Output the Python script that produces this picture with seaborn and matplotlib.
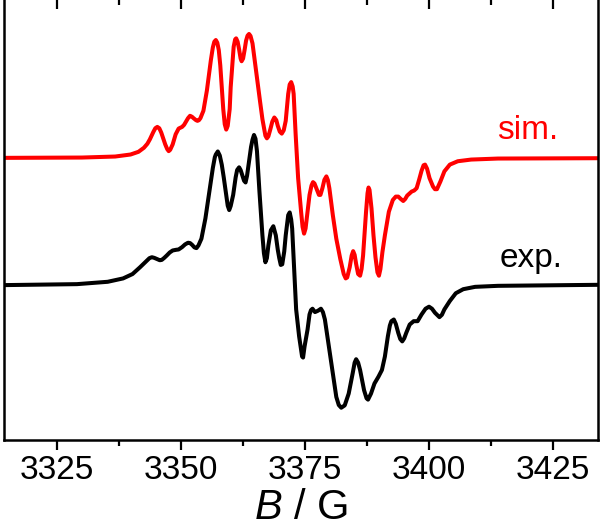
import numpy as np
import pandas as pd
import seaborn as sns
import matplotlib
matplotlib.use("Agg")
import matplotlib.pyplot as plt
from matplotlib.ticker import MultipleLocator

# field values (G) and signal heights
sim_field = [3313.6, 3330.0, 3336.7, 3339.8, 3341.4, 3342.5, 3343.2, 3343.7, 3344.4, 3344.8,
             3345.2, 3345.6, 3346.0, 3346.4, 3346.8, 3347.2, 3347.5, 3347.8, 3348.3, 3348.9,
             3349.5, 3350.2, 3350.6, 3351.0, 3351.4, 3351.8, 3352.2, 3352.5, 3353.0, 3353.3,
             3353.6, 3353.9, 3354.5, 3355.2, 3355.6, 3356.0, 3356.4, 3356.7, 3357.0, 3357.3,
             3357.6, 3357.9, 3358.2, 3358.5, 3358.8, 3359.1, 3359.4, 3359.8, 3360.0, 3360.3,
             3360.6, 3360.9, 3361.1, 3361.4, 3361.7, 3362.0, 3362.2, 3362.5, 3362.8, 3363.1,
             3363.4, 3363.7, 3364.0, 3364.4, 3365.1, 3365.9, 3366.4, 3366.7, 3367.0, 3367.3,
             3367.6, 3368.0, 3368.4, 3368.8, 3369.2, 3369.5, 3369.9, 3370.3, 3370.7, 3371.1,
             3371.6, 3371.9, 3372.2, 3372.5, 3372.7, 3373.1, 3373.6, 3374.2, 3374.5, 3374.8,
             3375.1, 3375.5, 3375.9, 3376.3, 3376.6, 3376.9, 3377.4, 3377.8, 3378.1, 3378.5,
             3378.9, 3379.3, 3379.6, 3379.9, 3380.6, 3381.3, 3382.1, 3382.8, 3383.2, 3383.5,
             3384.0, 3384.4, 3384.7, 3385.0, 3385.3, 3385.7, 3386.1, 3386.4, 3386.7, 3387.3,
             3387.6, 3387.8, 3388.0, 3388.4, 3388.8, 3389.2, 3389.6, 3389.9, 3390.2, 3390.6,
             3391.1, 3391.9, 3392.7, 3393.3, 3393.8, 3394.3, 3394.8, 3395.2, 3395.6, 3396.5,
             3397.0, 3397.5, 3398.0, 3398.5, 3398.9, 3399.2, 3399.6, 3400.1, 3400.8, 3401.2,
             3401.6, 3402.3, 3403.1, 3404.2, 3405.8, 3408.5, 3413.9, 3434.1]
sim_signal = [0.00, 0.01, 0.04, 0.10, 0.18, 0.30, 0.42, 0.55, 0.77, 0.88,
              0.92, 0.88, 0.75, 0.58, 0.40, 0.26, 0.20, 0.24, 0.40, 0.70,
              0.87, 0.92, 0.98, 1.08, 1.18, 1.25, 1.22, 1.18, 1.12, 1.10,
              1.12, 1.18, 1.40, 2.00, 2.45, 2.90, 3.28, 3.45, 3.50, 3.42,
              3.20, 2.75, 2.10, 1.45, 1.00, 0.84, 0.95, 1.45, 2.10, 2.70,
              3.30, 3.52, 3.55, 3.45, 3.22, 2.95, 2.87, 2.95, 3.20, 3.48,
              3.63, 3.68, 3.62, 3.40, 2.60, 1.70, 1.15, 0.90, 0.66, 0.58,
              0.64, 0.85, 1.08, 1.20, 1.12, 0.95, 0.78, 0.72, 0.82, 1.10,
              1.90, 2.18, 2.25, 2.12, 1.90, 0.70, -0.60, -1.60, -2.05, -2.25,
              -2.10, -1.60, -1.10, -0.82, -0.72, -0.76, -0.95, -1.10, -1.10, -0.90,
              -0.65, -0.55, -0.66, -0.90, -1.70, -2.40, -3.00, -3.45, -3.58, -3.55,
              -3.25, -2.90, -2.77, -2.88, -3.15, -3.45, -3.50, -3.30, -2.90, -1.60,
              -1.05, -0.88, -0.95, -1.50, -2.30, -2.95, -3.40, -3.50, -3.30, -2.80,
              -2.30, -1.60, -1.25, -1.15, -1.15, -1.22, -1.28, -1.22, -1.12, -1.00,
              -0.97, -0.90, -0.65, -0.38, -0.22, -0.20, -0.32, -0.60, -0.85, -0.93,
              -0.93, -0.70, -0.40, -0.20, -0.10, -0.05, -0.02, -0.01]

exp_field = [3313.6, 3329.0, 3335.2, 3338.3, 3340.2, 3341.7, 3342.9, 3343.6, 3344.1, 3344.6,
             3345.2, 3345.7, 3346.1, 3346.6, 3347.1, 3347.7, 3348.3, 3349.0, 3349.5, 3350.2,
             3350.8, 3351.4, 3351.8, 3352.2, 3352.7, 3353.1, 3353.5, 3354.1, 3354.9, 3355.6,
             3356.4, 3356.8, 3357.0, 3357.4, 3357.8, 3358.2, 3358.6, 3359.0, 3359.4, 3359.7,
             3360.0, 3360.5, 3361.0, 3361.3, 3361.7, 3362.0, 3362.3, 3362.7, 3363.0, 3363.3,
             3363.7, 3364.1, 3364.4, 3364.7, 3365.0, 3365.3, 3365.8, 3366.4, 3366.7, 3367.0,
             3367.3, 3367.6, 3368.1, 3368.6, 3369.1, 3369.5, 3369.8, 3370.1, 3370.4, 3370.8,
             3371.1, 3371.6, 3371.9, 3372.2, 3372.4, 3372.8, 3373.2, 3373.8, 3374.4, 3374.6,
             3374.9, 3375.5, 3375.9, 3376.2, 3376.5, 3377.0, 3377.6, 3378.2, 3378.6, 3379.0,
             3379.8, 3380.6, 3381.3, 3381.8, 3382.3, 3383.0, 3383.8, 3384.6, 3385.0, 3385.3,
             3385.7, 3386.1, 3386.9, 3387.4, 3387.7, 3388.3, 3389.0, 3389.8, 3390.5, 3391.1,
             3391.7, 3392.1, 3392.4, 3392.9, 3393.3, 3393.8, 3394.2, 3394.6, 3395.0, 3395.4,
             3396.1, 3396.9, 3397.7, 3398.5, 3399.3, 3400.0, 3400.6, 3401.2, 3402.1, 3402.6,
             3403.1, 3404.2, 3405.4, 3406.9, 3409.3, 3413.9, 3434.1]
exp_signal = [0.00, 0.03, 0.10, 0.20, 0.33, 0.53, 0.70, 0.80, 0.83, 0.81,
              0.77, 0.74, 0.75, 0.81, 0.88, 0.97, 1.03, 1.05, 1.06, 1.13,
              1.21, 1.26, 1.25, 1.20, 1.12, 1.10, 1.18, 1.38, 1.98, 2.68,
              3.48, 3.80, 3.88, 3.97, 3.85, 3.58, 3.20, 2.78, 2.36, 2.23,
              2.35, 2.68, 3.20, 3.42, 3.50, 3.42, 3.28, 3.10, 3.05, 3.25,
              3.68, 4.10, 4.32, 4.46, 4.35, 3.98, 2.78, 1.48, 0.95, 0.68,
              0.80, 1.18, 1.63, 1.75, 1.48, 1.05, 0.80, 0.60, 0.62, 1.00,
              1.48, 2.08, 2.16, 1.95, 1.68, 0.48, -0.72, -1.52, -2.12, -2.15,
              -1.82, -1.32, -0.87, -0.74, -0.70, -0.80, -0.76, -0.70, -0.80, -1.02,
              -1.82, -2.62, -3.32, -3.56, -3.64, -3.57, -3.22, -2.62, -2.30, -2.20,
              -2.30, -2.52, -3.12, -3.36, -3.40, -3.22, -2.92, -2.72, -2.52, -2.12,
              -1.52, -1.20, -1.07, -1.02, -1.15, -1.42, -1.60, -1.67, -1.58, -1.42,
              -1.17, -1.07, -1.07, -0.87, -0.70, -0.64, -0.70, -0.82, -0.95, -0.88,
              -0.72, -0.47, -0.24, -0.12, -0.05, -0.02, 0.01]

trace_names = ["sim.", "exp."]
xtick_values = [3325, 3350, 3375, 3400, 3425]

SIM_OFFSET = 8.38
EXP_OFFSET = 4.60


def build_frame():
    sim = pd.DataFrame({"field": sim_field,
                        "y": np.array(sim_signal) + SIM_OFFSET,
                        "trace": trace_names[0]})
    exp = pd.DataFrame({"field": exp_field,
                        "y": np.array(exp_signal) + EXP_OFFSET,
                        "trace": trace_names[1]})
    return pd.concat([sim, exp], ignore_index=True)


def main():
    sns.set_style("ticks")
    plt.rcParams["font.family"] = ["Liberation Sans", "DejaVu Sans"]
    plt.rcParams["mathtext.fontset"] = "custom"
    plt.rcParams["mathtext.it"] = "Liberation Sans:italic"
    plt.rcParams["mathtext.rm"] = "Liberation Sans"
    for key in ["text.color", "axes.labelcolor", "xtick.color", "axes.edgecolor"]:
        plt.rcParams[key] = "black"

    df = build_frame()
    colors = {"sim.": "#ff0000", "exp.": "#000000"}

    fig = plt.figure(figsize=(6, 5.27), dpi=100)
    ax = fig.add_axes([0.006, 0.165, 0.99, 0.837])
    sns.lineplot(data=df, x="field", y="y", hue="trace", palette=colors,
                 estimator=None, sort=False, linewidth=2.9, legend=False, ax=ax)
    for line in ax.get_lines():
        line.set_solid_joinstyle("round")
        line.set_solid_capstyle("round")

    ax.set_xlim(3314.2, 3434.0)
    ax.set_ylim(0, 13.1)
    ax.set_yticks([])
    ax.set_ylabel("")
    ax.set_xticks(xtick_values)
    ax.xaxis.set_minor_locator(MultipleLocator(12.5))
    ax.tick_params(axis="x", which="major", direction="out", length=7, width=1.6,
                   labelsize=24, pad=4)
    ax.tick_params(axis="x", which="minor", direction="out", length=4, width=1.6)
    for side in ["left", "right", "top", "bottom"]:
        ax.spines[side].set_visible(True)
        ax.spines[side].set_linewidth(1.8)

    top = ax.secondary_xaxis("top")
    top.set_xticks(xtick_values)
    top.xaxis.set_minor_locator(MultipleLocator(12.5))
    top.tick_params(axis="x", which="major", direction="in", length=7, width=1.6,
                    labeltop=False)
    top.tick_params(axis="x", which="minor", direction="in", length=4, width=1.6)
    top.spines["top"].set_linewidth(1.8)

    ax.set_xlabel(r"$\mathit{B}$ / G", fontsize=30, labelpad=1)

    ax.text(3413.8, 9.2, "sim.", color="#ff0000", fontsize=24, va="center", ha="left")
    ax.text(3414.2, 5.4, "exp.", color="#000000", fontsize=24, va="center", ha="left")

    fig.savefig("out.png", dpi=100)


if __name__ == "__main__":
    main()
